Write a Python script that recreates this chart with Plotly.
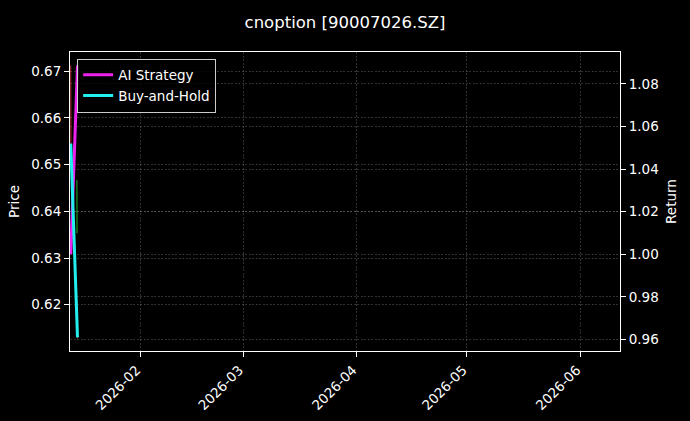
import plotly.graph_objects as go

# values
dates = ["2026-01-13 00:00", "2026-01-14 20:00"]
ai_strategy = [1.0, 1.0886]
buy_and_hold = [1.052, 0.961]

price_dates = ["2026-01-13 00:00", "2026-01-13 01:00", "2026-01-14 20:00"]
price = [0.6712, 0.6546, 0.6128]

signal_dates = ["2026-01-14 16:00", "2026-01-14 17:00"]
signal = [0.6467, 0.6353]

x_range = ["2026-01-12 19:00", "2026-06-11 17:00"]
price_ticks = [0.62, 0.63, 0.64, 0.65, 0.66, 0.67]
return_ticks = [0.96, 0.98, 1.00, 1.02, 1.04, 1.06, 1.08]

FONT = "DejaVu Sans"

fig = go.Figure()

# price on the left axis (thin, faded)
fig.add_trace(go.Scatter(x=price_dates, y=price, mode="lines",
                         line=dict(color="rgba(255,70,70,0.7)", width=1),
                         showlegend=False, yaxis="y"))
fig.add_trace(go.Scatter(x=signal_dates, y=signal, mode="lines",
                         line=dict(color="rgba(40,200,40,0.6)", width=1.5),
                         showlegend=False, yaxis="y"))

# returns on the right axis
fig.add_trace(go.Scatter(x=dates, y=ai_strategy, mode="lines", name="AI Strategy",
                         line=dict(color="#ee22ee", width=3), yaxis="y2"))
fig.add_trace(go.Scatter(x=dates, y=buy_and_hold, mode="lines", name="Buy-and-Hold",
                         line=dict(color="#22eeee", width=3), yaxis="y2"))

grid = dict(showgrid=True, gridcolor="rgba(150,150,150,0.32)", gridwidth=0.6,
            griddash="2px,1.5px")
spine = dict(ticks="outside", ticklen=5, tickcolor="white", showline=True,
             linecolor="white", linewidth=1, zeroline=False, automargin=False,
             tickfont=dict(size=13.5))

fig.update_layout(
    width=690, height=421,
    paper_bgcolor="black", plot_bgcolor="black",
    font=dict(family=FONT, color="white", size=13.5),
    margin=dict(l=70, r=70, t=52, b=70),
    title=dict(text="cnoption [90007026.SZ]", x=0.5, xanchor="center",
               y=0.948, yanchor="middle", font=dict(size=16.5, family=FONT)),
    xaxis=dict(type="date", range=x_range, tick0="2026-02-01", dtick="M1",
               tickformat="%Y-%m", tickangle=-45, ticklabelshift=-4, mirror=True,
               **spine, **grid),
    yaxis=dict(title=dict(text="Price", standoff=8, font=dict(size=13.5)),
               range=[0.6101, 0.6741], tickvals=price_ticks, tickformat=".2f",
               **spine, **grid),
    yaxis2=dict(title=dict(text="Return", standoff=8, font=dict(size=13.5)),
                overlaying="y", side="right", range=[0.9546, 1.095],
                tickvals=return_ticks, tickformat=".2f", **spine, **grid),
    legend=dict(x=0.013, y=0.978, xanchor="left", yanchor="top",
                bgcolor="rgba(0,0,0,0.8)", bordercolor="#cccccc", borderwidth=1,
                font=dict(size=13.5, family=FONT), tracegroupgap=4),
)

fig.write_html("out.html", config={"displayModeBar": False},
               post_script="document.body.style.margin='0';")
